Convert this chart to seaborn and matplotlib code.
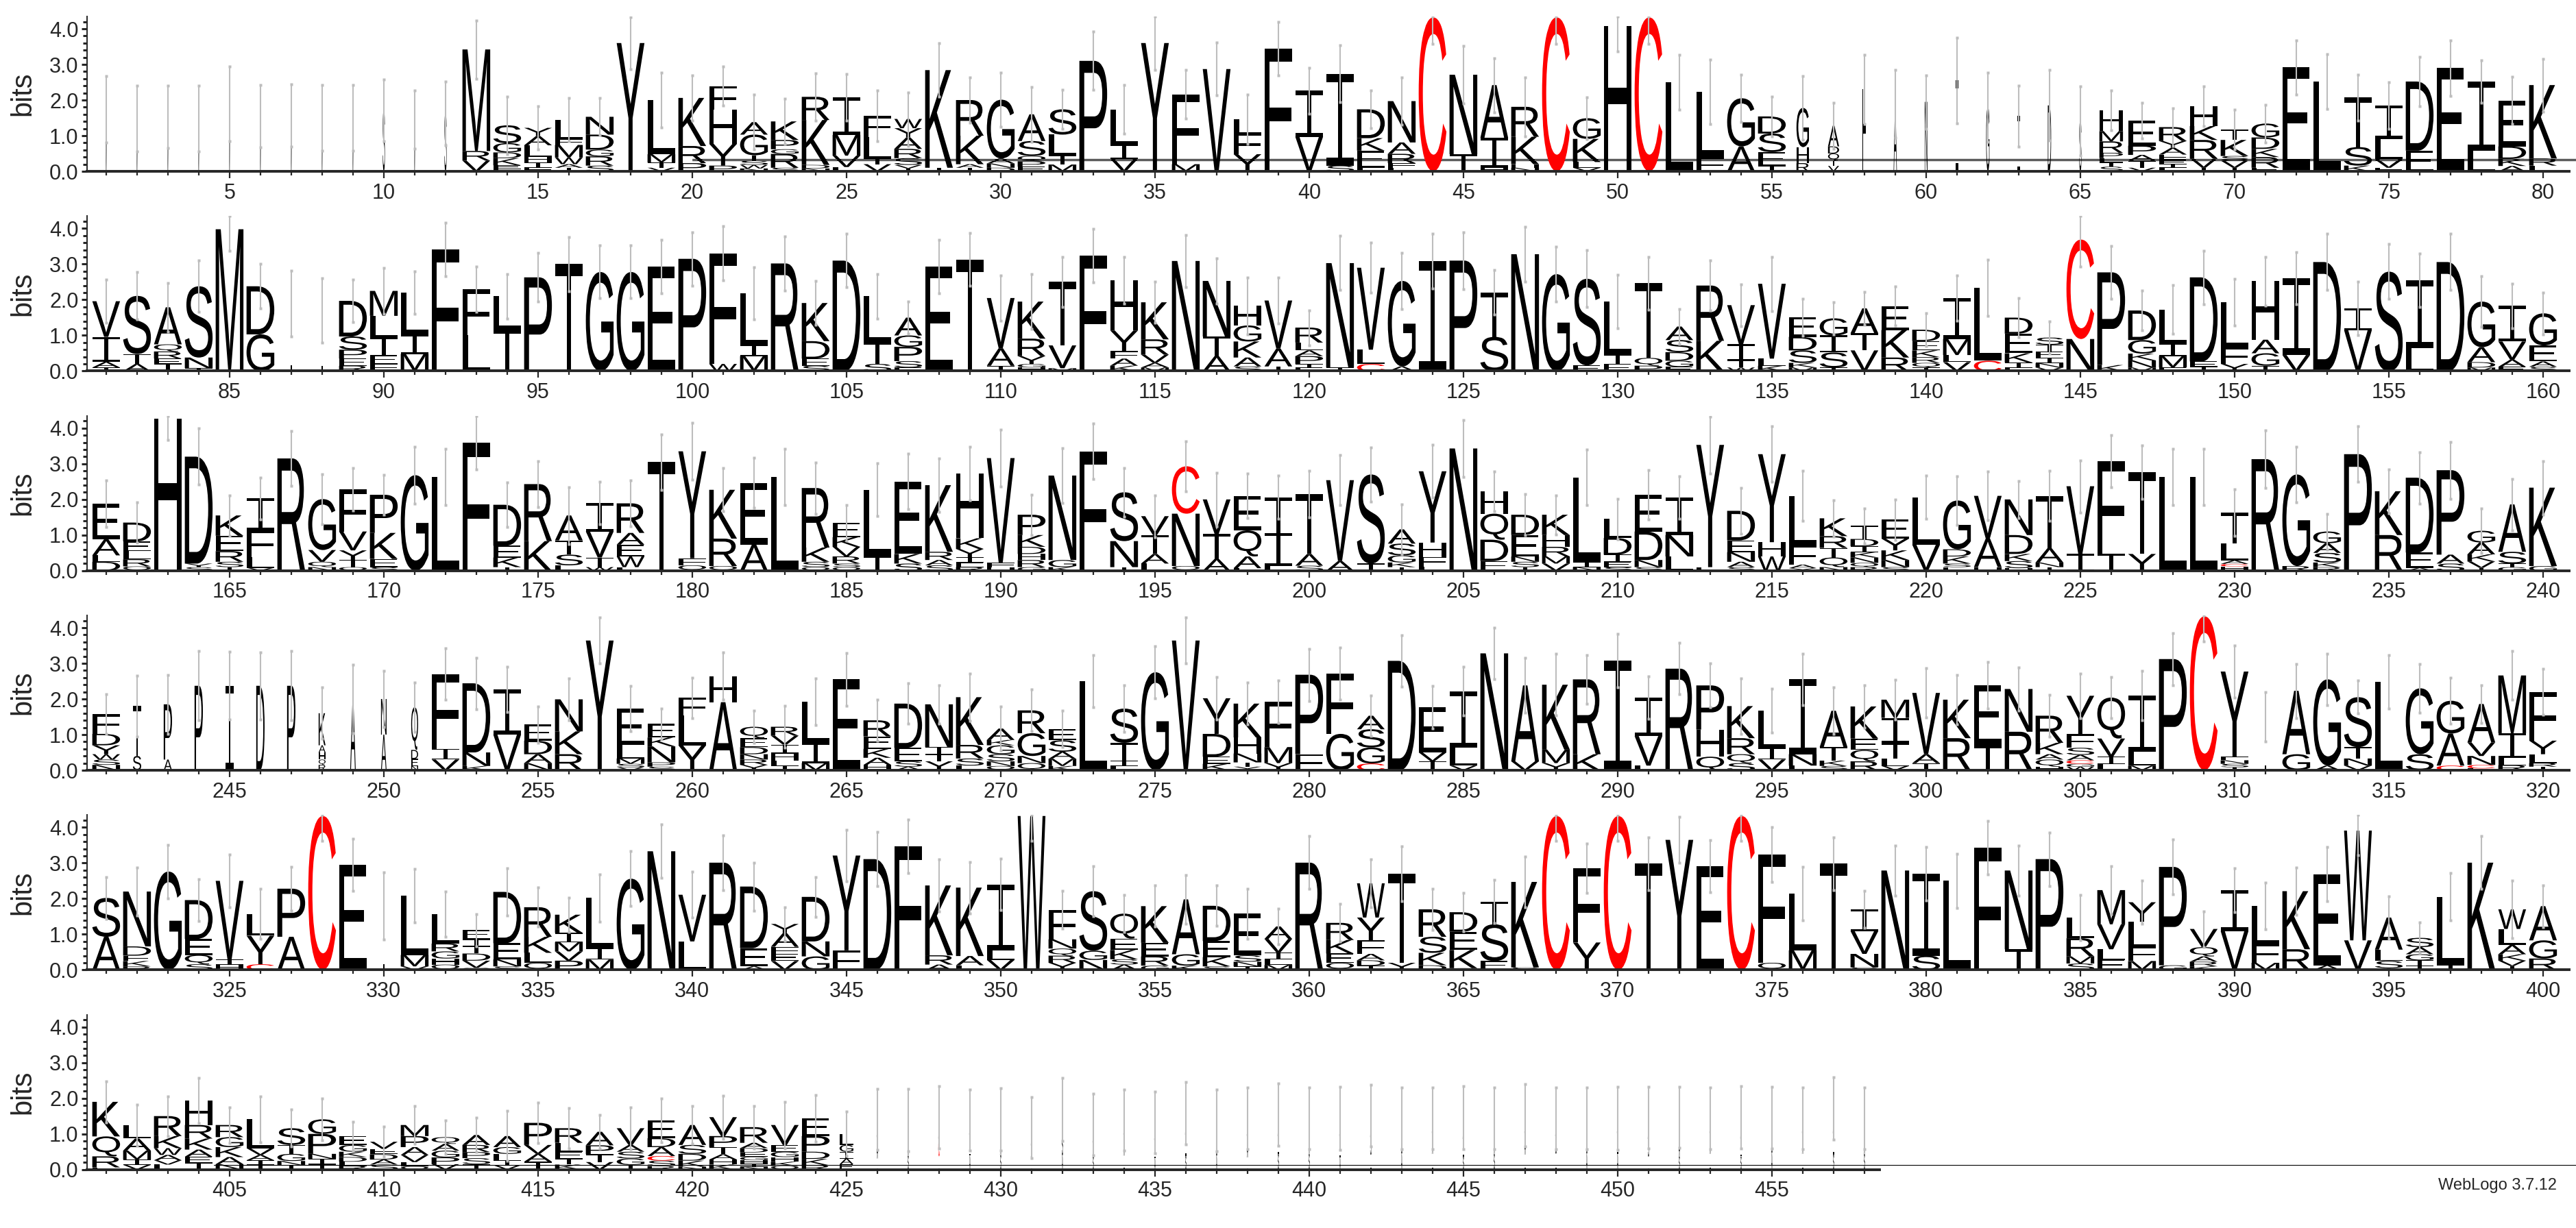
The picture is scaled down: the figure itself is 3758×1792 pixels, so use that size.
import re
import matplotlib
matplotlib.use("Agg")
import matplotlib.pyplot as plt
from matplotlib.textpath import TextPath
from matplotlib.patches import PathPatch
from matplotlib.path import Path
from matplotlib.font_manager import FontProperties
from matplotlib.transforms import Affine2D
import seaborn as sns

# ---- data: one string per position, letters listed top -> bottom with height in bits
row1 = ["M1.74", "M1.48", "M1.53", "M1.48", "M1.9", "M1.55", "M1.57", "M1.5", "M1.5", "S1.71",
        "M1.45", "S1.63", "M2.85R.27V.3", "S.5G.26D.16K.2E.1F.07", "Y.23A.26L.32H.16I.15F.1",
        "L.55F.16M.35W.19A.1T.1", "N.5D.42G.19R.26S.16", "Y3.6", "L1.52M.23T.15V.1", "K1.35R.48P.23",
        "F.65H.97Y.61P.16", "A.35G.58T.15S.12W.1N.08", "K.52P.26G.13R.39S.1", "R.65K1.26D.1N.08",
        "I1.06M.58V.32L.12", "F.58L.61T.16V.2", "W.26Y.26A.32R.26S.19V.1T.08", "K2.74T.1",
        "R1.0K.8A.1T.1", "G1.65A.14N.12D.1", "A.75S.42Q.15P.15E.13", "S.71L.58T.26M.19", "P3.1",
        "L1.0I.39V.35", "Y3.6", "F1.96M.2", "V2.87", "L.4F.58Y.48", "F3.45", "I1.29V.97",
        "I2.58S.16", "D.81K.35E.48L.1", "N1.16A.32R.26F.13L.1", "C4.32", "N2.23T.48", "A1.48I.84H.1",
        "R.84K.77H.1N.1", "C4.32", "G.58K.65L.16V.1", "H4.07", "C4.32", "L2.5", "L1.84F.39",
        "G1.35A.7", "D.48S.52E.39T.15", "G1.1H.45R.23", "A.58D.2Q.2T.15V.15", "H2.3", "A1.9", "N1.95",
        "I2.55", "G1.8", "I1.55", "D1.85", "S1.42", "H.58M.29R.32P.15L.12T.12S.13",
        "E.71P.26A.16T.2V.1", "R.39Y.19A.19F.15E.12I.1L.1", "H.55K.39R.52V.26T.1",
        "T.29K.45S.13V.2I.1", "G.39D.32K.23R.3E.1", "E2.92", "L2.52", "T1.39S.52K.16",
        "I.94L.58V.23F.1", "D1.94E.58", "E2.9", "I1.94L.58", "E1.29D.35K.2A.15", "K2.06R.2L.16"]

row2 = ["V1.0I.7A.16T.1", "S1.63T.28A.2", "A1.04Q.2R.2E.15T.2", "S2.0N.3T.08", "M3.98", "D1.35G1.03",
        "I1.9", "I1.7", "D1.0S.37P.25E.2R.15", "M.7L.61T.49E.25F.2", "L1.17I.55M.48", "F3.42",
        "F1.3L1.0", "L.92T1.18", "P2.63", "T3.0", "G2.78", "G2.78", "E2.93", "P3.15", "F3.1W.2",
        "L1.47I.3M.42", "R3.02", "K1.07D.49E.2S.15", "D3.1", "L1.29T.61S.2", "A.5G.32P.4S.18E.1",
        "E2.93", "T3.13", "V1.41A.49T.15", "K1.04R.49Y.22G.1H.1", "T1.78V.64M.08", "F3.24",
        "H1.41Y.58F.21A.2K.15", "K1.04R.43V.23A.13M.1", "N3.09", "N1.56T.55A.42", "H.55G.45K.45A.25S.13",
        "V1.35A.5T.13", "R.42L.22A.16P.22T.1E.1", "N2.93T.1", "V2.3L.4C.2", "G2.4A.13", "I3.09", "P3.1",
        "T1.25S.96", "N3.28", "G2.72", "S2.43E.16", "L1.5T.26E.2", "T2.1Q.22P.15", "A.38S.34D.24G.17E.12",
        "R1.55K.85", "V1.1I.45T.2W.1", "V2.1L.2K.15", "E.55D.38S.35K.13M.1", "G.48I.48S.42T.1",
        "A.7T.48V.58", "E.67K.77R.38", "D.32E.26K.19R.16Q.13T.1", "I1.15M.45L.2V.25", "L2.04C.29",
        "D.45E.55K.26T.14F.1", "S.2T.2E.18I.14N.12V.1", "C2.79N.9", "P2.6K.17", "D.83G.38K.19N.2M.1",
        "L.96I.35M.32E.1", "D2.36E.15T.12", "L1.28F.45Y.2", "H1.64A.38G.35T.15", "I2.15V.45", "D3.06",
        "I.6V1.15", "S2.79", "I1.9L.64", "D3.06", "G1.28A.42D.15M.1", "I1.0V.51A.2E.12", "G.9E.45A.15S.12"]

row3 = ["E1.0A.45L.18D.25", "D.53E.27L.23R.2Q.12", "H4.27", "D3.0Y.1S.1", "K.57E.43R.3S.15T.1",
        "I.9F.75L.3V.08", "R3.15", "G1.43V.33Q.15N.1", "F1.19V.53Y.27T.2Q.1", "P1.07K.73E.23S.1",
        "G2.68", "L2.63", "F3.59", "D1.15E.33K.27I.1", "R1.6K.83", "A.7T.4S.3L.15", "I.8V.73T.27W.1",
        "R.83A.33E.33W.3L.1", "T3.05", "Y3.0F.2Q.15", "K1.37R.77Q.13", "E1.73A.73", "L2.63",
        "R1.67K.4S.15Q.1", "E.4K.27V.27R.2S.1Q.1", "L1.87T.4", "E2.03K.27S.2", "K1.87R.23A.15S.15",
        "H1.81K.3Y.23I.15E.13R.1", "V2.93F.13H.1", "P.57K.33D.2H.17R.2G.1", "N2.37G.2K.1", "F3.35",
        "S1.37N.73T.1", "V.53T.53A.27L.2", "C1.33N1.47Q.13", "V.97T.7A.33", "E.97Q.73A.33L.07",
        "T1.0I.93L.13", "T1.68A.33S.14", "V2.27A.27", "S2.5T.2", "A.4S.33G.2K.13T.1", "Y2.0H.4F.27L.12",
        "N3.43", "H.63Q.73D.6E.27", "D.57E.6N.15S.15T.1", "K.57H.33R.27M.2V.2", "L2.37I.15N.1",
        "L.53D.47I.2E.15S.1", "E1.03D.8N.2S.1", "I1.05N.6L.4", "Y3.43E.1", "D.83E.33N.27A.15S.1",
        "Y2.47H.4W.4", "L1.4F.53A.1Y.07", "K.5R.33T.27Q.27N.1", "T.37D.2I.17K.15N.15Q.12R.1",
        "E.53Y.33K.27N.2S.1", "L1.33V.73", "G1.37D.2K.2S.1E.1", "V1.2A.8H.1", "N1.0D.53K.2S.2H.07",
        "T1.47A.4N.13I.1", "V1.9I.47", "F2.61T.47", "T2.3Y.47", "L2.63", "L2.63", "T.87L.47A.1C.07H.12",
        "R3.13", "G2.57R.13", "G.33A.27S.27K.13R.1", "P3.27", "K1.23R1.0", "D2.1E.43A.08", "P2.37A.25S.2",
        "G.33A.33K.2V.18T.08", "A1.33S.33T.1G.1", "K2.2G.13"]

row4 = ["F.55D.32Y.25W.15S.15N.15", "T1.4S.4", "P1.55A.3", "P2.37", "I2.37", "D2.37", "P2.37",
        "K.9A.2H.2Q.15R.15", "A2.0", "N1.0A1.0", "Q1.2D.25E.2N.12", "F2.1I.3V.3", "D1.94N.38K.12",
        "I1.27V1.0", "E.45D.38A.25N.2", "N.9K.64R.45", "Y3.64", "E1.02L.38M.15S.1V.08",
        "E.38K.25N.45P.12S.1", "F.5L.83Y.7", "H.73A1.91", "Q.32E.25D.2N.15R.15Y.15",
        "R.25V.25I.25H.2L.15T.12", "L1.15I.57M.2", "E2.55", "R.45E.35K.25A.2H.15", "D1.24E.38S.15A.1",
        "N1.2I.2T.2Y.25", "K1.34R.38S.2L.13", "A.32K.15G.25S.2N.13Q.12", "R.64G.64N.2Q.2",
        "E.32S.32A.2M.2K.12", "L2.5", "S.96T.5I.15L.12", "G2.75", "V3.64", "Y1.0D.64E.2K.18",
        "K.95H.45N.25T.12Y.1", "F1.27M.45Y.2", "P2.23F.45", "F1.69G1.02", "A.38S.51G.45C.19", "D3.07",
        "E1.27V.25I.25", "I1.59L.5V.13", "N3.28", "A2.13V.25", "K1.82M.38Y.2", "R2.1K.45", "I3.07",
        "I1.08V.83L.13", "R2.85", "P1.24H.76Q.38", "K.9R.45Q.25S.2", "L1.05I.32V.3", "I2.1N.32L.13",
        "A1.02T.38K.15S.12", "K.9E.32Q.32R.25", "M.51I.7T.45L.2V.12", "V1.72A.25T.2", "K1.08R.9",
        "E1.69T.7", "N1.2R1.08", "R.76K.32A.15Q.2H.1", "Y1.08F.38S.2A.15C.1G.08W.1", "Q1.15V.51I.2L.18",
        "I1.59L.38M.13", "P3.12", "C4.32", "Y2.39F.1N.1S.1T.08", "I1.5", "A1.78G.45", "G2.42A.13",
        "S1.4T.32N.2V.13", "L2.48", "G1.85S.45", "G.92A.9C.13", "A1.08V.38N.25C.1L.05",
        "M1.62I.7L.2R.14", "F1.37Y.38L.25R.1T.1"]

row5 = ["S1.09A.93", "N1.54D.26E.15K.15R.1", "G2.76", "D1.09E.45Q.26S.16", "V2.21I.15H.14",
        "L.61Y.8C.16", "P1.35A.93", "C4.32", "E2.95", "I1.8", "L1.67M.32V.1", "L.83R.22G.2H.17Q.15",
        "E.26I.2T.2D.2V.2Q.06", "D1.44E.45N.2S.1", "R.83K.45L.28Q.2", "K.51I.26M.26V.26P.26",
        "L1.41I.32M.29", "G2.56", "N3.33", "V1.31L.8", "R3.01", "D1.73E.51A.1", "Y.26A.38F.2E.2V.25",
        "D1.25N.42G.38", "Y2.66F.55", "D3.11", "F3.46", "K1.96R.26A.15", "K1.92A.26L.13", "I1.86L.26V.28",
        "W4.32", "F.83N.26Q.2R.2Y.2", "S1.67G.26N.28", "Q.7E.32K.26S.15A.15", "K1.03E.38R.26G.12",
        "A1.54G.32K.12", "D.99E.45K.26S.1", "E1.17S.18N.13T.1", "A.35V.38I.2L.15M.14", "R3.01",
        "R.48K.38E.26Q.2", "W.96Y.64F.38A.18D.15T.12", "T2.5Y.2", "R.77S.45K.35D.13", "D.55E.51K.51S.05",
        "T.64S1.03E.25", "K2.4S.07", "C4.32", "F2.08Y.77", "C4.32", "T2.98", "Y3.65", "E2.92", "C4.32",
        "F3.03Q.2", "L1.6M.55", "T2.98", "I.61V.64N.38S.07", "N2.79", "I2.3S.4", "L2.5", "F3.43",
        "N2.21T.58", "P3.11", "L.58R.51M.2S.18", "M.96V.7L.3E.28", "Y.55L.7F.4M.25", "P2.76G.13",
        "V.51Q.26A.15R.13K.1", "I1.15V1.09", "L1.09F.51M.2", "K1.63R.58", "E2.56A.13", "W3.08V.83",
        "A.9L.32S.2T.05", "S.26A.2G.17T.15I.12", "L1.92T.13", "K3.01", "W.55L.45A.26K.18V.15T.11",
        "A.96G.51R.32"]

row6 = ["K.97Q.56R.31E.06", "L.38A.34M.25I.15V.13", "R.56K.34W.19A.15V.12L.14",
        "H.69R.38K.31A.2E.18T.18", "R.34G.28K.28A.2N.15", "L.81V.19A.15T.12I.14", "S.47T.25G.2N.12I.12",
        "G.41P.56N.14I.15T.15", "E.25G.19K.15D.13L.12R.1", "V.2E.15D.15A.14S.14",
        "M.31P.31A.22V.2L.12Q.09", "Q.19A.19G.19P.19V.15", "A.28R.2P.17S.17I.15", "A.31G.19L.19I.13V.12",
        "P.62V.25A.22T.22", "R.41L.25E.2I.16K.14", "A.38P.25T.22V.21", "V.47A.19S.19G.18T.13",
        "E.5D.25A.25C.13S.15R.1", "A.56S.25D.19K.17N.08", "V.53P.31T.2A.15H.14K.14",
        "R.44A.15D.12E.12G.1H.1I.08N.08", "V.56E.19G.15H.13K.12Q.1", "E.5P.44D.2K.18R.12",
        "L.31G.19I.19A.16E.15",
        "S.6A.5L.31", "L.5A.5S.39", "A.6C.5L.37", "S.5L.5A.39", "L.6A.4S.41", "A.5S.4L.28",
        "L.7S.6A.39", "A.5L.4S.36", "S.5A.5L.39", "S.6L.4A.32", "A.6L.6S.38", "L.5S.5A.38",
        "S.6A.5L.34", "A.6L.5S.44", "L.5A.5S.44", "S.6L.5A.34", "A.6S.5L.41", "L.5S.5A.44",
        "S.5A.5L.44", "A.6L.5S.36", "L.5A.5S.44", "S.6A.5L.42", "A.5S.5L.44", "L.5S.5A.44",
        "S.5L.5A.44", "A.6S.5L.36", "L.6A.5S.37", "S.5A.5L.44", "A.6L.5S.37", "L.5S.5A.46",
        "S.5A.5L.44", "A.7L.6S.42", "L.5A.5S.44"]

err1 = [.94, .92, .87, .92, 1.05, .87, .87, .92, .92, .86, .82, .89,
        .82, .8, .6, .61, .52, .73, .77, .64, .55, .77, .63, .66, .66, .71, .75, .75, .63, .76,
        .77, .55, .82, .68, .75, .68, .74, .7, .75, .64, .79, .52, .66, .74, .8, .76, .82, .74, .58, .7,
        .74, .77, .9, .66, .55, .9, .65, .97, .95, .75, 1.2, .97, .85, .99, .97, .55, .5, .52, .56, .56,
        .53, .76, .77, .64, .65, .69, .78, .6, .66, .74]
err2 = [.6, .66, .69, .72, .6, .63, .92, .9, .6, .64, .6, .75, .64, .62, .68, .76, .74, .74, .75, .75,
        .76, .73, .76, .61, .75, .63, .46, .75, .74, .63, .77, .71, .75, .65, .58, .73, .64, .8, .65,
        .49, .76, .7, .79, .77, .8, .62, .77, .77, .8, .75, .74, .49, .7, .59, .76, .52, .46, .47, .55,
        .46, .63, .79, .54, .45, .75, .74, .56, .69, .75, .66, .68, .73, .79, .75, .77, .75, .79, .71,
        .62, .59]
err3 = [.65, .56, .6, .79, .57, .59, .77, .7, .6, .55, .8, .78, .75, .62, .64, .8, .59, .65, .78, .8,
        .61, .7, .78, .72, .5, .74, .78, .75, .75, .8, .57, .77, .78, .69, .59, .7, .75, .62, .61,
        .66, .7, .76, .7, .74, .8, .56, .58, .55, .78, .56, .7, .6, .8, .64, .78, .7, .51, .49, .57,
        .61, .68, .68, .52, .7, .73, .73, .75, .78, .78, .66, .8, .78, .5, .78, .62, .72, .8, .62, .72,
        .75]
err4 = [.56, .86, .83, .97, .95, .94, .97, .72, .97, .78, .7, .72, .72, .63, .51, .58, .64, .63, .44,
        .57, .66, .45, .58, .65, .74, .58, .57, .54, .67, .62, .59, .51, .73, .65, .73, .64, .59, .59,
        .59, .73, .73, .56, .72, .59, .68, .72, .77, .86, .68, .75, .6, .72, .62, .78, .62, .72, .65,
        .59, .55, .69, .7, .65, .61, .58, .63, .58, .69, .73, .7, .73, .7, .76, .72, .46, .75, .69, .65,
        .53, .68, .64]
err5 = [.59, .67, .75, .58, .74, .7, .62, .7, .74, .94, .75, .63, .45, .66, .55, .48, .66, .77, .75,
        .65, .77, .67, .47, .56, .72, .76, .75, .73, .72, .72, .7, .52, .71, .52, .58, .68, .57, .7, .5,
        .74, .53, .67, .77, .58, .54, .61, .72, .7, .69, .7, .74, .65, .73, .7, .77, .75, .74, .51, .7,
        .75, .76, .75, .7, .75, .63, .68, .61, .77, .5, .61, .65, .67, .76, .7, .59, .43, .66, .74, .81,
        .59]
err6 = [.57, .58, .56, .64, .5, .65, .52, .58, .4, .42, .53, .47, .48, .7, .57, .56, .47, .59, .62,
        .53, .61, .59, .65, .65, .63,
        .86, .87, .88, .86, .87, .86, .88, .87, .86, .87, .88, .86, .87, .87, .86, .88, .87, .86, .87,
        .88, .86, .87, .87, .86, .88, .87, .86, .87, .88, .86, .87, .87, .86]

# stack width (fraction of a column) where the column is mostly gaps
narrow = {1: .04, 2: .04, 3: .04, 4: .04, 5: .04, 6: .04, 7: .04, 8: .04, 9: .04, 10: .08, 11: .04,
          12: .08, 56: .45, 57: .4, 58: .12, 59: .12, 60: .1, 61: .1, 62: .12, 63: .08, 64: .12,
          65: .08, 66: .85, 87: .05, 88: .05, 242: .3, 243: .3, 244: .3, 245: .3, 246: .3, 247: .3,
          248: .25, 249: .2, 250: .2, 251: .25, 311: .04, 330: .05, 425: .5}
narrow.update({p: .05 for p in range(426, 459)})

# faint horizontal rules seen in the logo: (row, first position, height in bits)
rules = [(0, 20, 0.31), (0, 20, 0.35), (5, 404.5, 0.12)]

rows = [row1, row2, row3, row4, row5, row6]
errs = [err1, err2, err3, err4, err5, err6]

# ---- drawing
sns.set_style("ticks")
plt.rcParams['font.family'] = ['Liberation Sans', 'DejaVu Sans']

W, H = 3758, 1792
fig = plt.figure(figsize=(W / 100, H / 100), dpi=100)

fp = FontProperties(family='Liberation Sans')
glyphs = {}


def rect(x0, y0, w, h):
    return Path([(x0, y0), (x0 + w, y0), (x0 + w, y0 + h), (x0, y0 + h), (x0, y0)],
                [Path.MOVETO, Path.LINETO, Path.LINETO, Path.LINETO, Path.CLOSEPOLY])


# WebLogo's I has serifs: two bars and a thin stem
glyphs['I'] = Path.make_compound_path(rect(0, 0.91, 1, 0.09), rect(0.43, 0, 0.14, 1),
                                      rect(0, 0, 1, 0.09))


def letter(ax, ch, x, y0, w, h, color):
    if ch not in glyphs:
        glyphs[ch] = TextPath((0, 0), ch, size=1, prop=fp)
    tp = glyphs[ch]
    bb = tp.get_extents()
    tr = (Affine2D().translate(-bb.x0, -bb.y0)
          .scale(w / bb.width, h / bb.height)
          .translate(x - w / 2, y0))
    ax.add_patch(PathPatch(tr.transform_path(tp), fc=color, ec='none', lw=0,
                           clip_on=False, zorder=2))


tok = re.compile(r'([A-Z])(\d*\.\d+|\d+)')
baselines = [250, 541.5, 832.8, 1124, 1415.4, 1706.7]
px_bit = 52.0
ymax = 4.35

for r, (data, err) in enumerate(zip(rows, errs)):
    start = 80 * r + 1
    ax = fig.add_axes([127 / W, (H - baselines[r]) / H, 80.47 * 45 / W, ymax * px_bit / H])
    for i, s in enumerate(data):
        pos = start + i
        wf = narrow.get(pos, 1.0)
        stack = [(a, float(b)) for a, b in tok.findall(s)]
        y = 0.0
        for ch, h in reversed(stack):
            letter(ax, ch, pos, y, 0.9 * wf, h, 'red' if ch == 'C' else 'black')
            y += h
        lo, hi = max(y - err[i], 0), min(y + err[i], ymax)
        ax.vlines(pos, lo, hi, color='#bdbdbd', lw=1.5, zorder=3)
        ax.plot([pos, pos], [lo, hi], 's', ms=2.6, color='#bdbdbd', mec='none', zorder=3)

    for rr, x0, yb in rules:
        if rr == r:
            ax.plot([x0, start + 84], [yb, yb], color='black', lw=0.8, clip_on=False, zorder=1)

    last = start + len(data) - 1
    ax.set_xlim(start - 0.62, start + 79.85)
    ax.set_ylim(0, ymax)
    ax.set_xticks([p for p in range(start, last + 1) if p % 5 == 0])
    ax.set_xticks(list(range(start, last + 1)), minor=True)
    ax.set_yticks([0, 1, 2, 3, 4])
    ax.set_yticklabels(['0.0', '1.0', '2.0', '3.0', '4.0'])
    ax.set_yticks([k * 0.2 for k in range(22)], minor=True)
    ax.tick_params(axis='x', which='major', length=7, width=1.6, labelsize=22, pad=5)
    ax.tick_params(axis='x', which='minor', length=4, width=1.6)
    ax.tick_params(axis='y', which='major', length=6, width=2.2, labelsize=22, pad=3)
    ax.tick_params(axis='y', which='minor', length=4, width=2.2)
    sns.despine(ax=ax)
    ax.spines['bottom'].set_linewidth(2.8)
    ax.spines['left'].set_linewidth(1.4)
    ax.spines['bottom'].set_bounds(start - 0.62, last + 0.5 if r == 5 else start + 79.85)
    ax.patch.set_alpha(0)
    fig.text(33 / W, 1 - (baselines[r] - ymax * px_bit / 2) / H, 'bits', rotation=90,
             ha='center', va='center', fontsize=30)

fig.text(3730 / W, 1 - 1730 / H, 'WebLogo 3.7.12', ha='right', va='center', fontsize=17)
fig.savefig('out.png', dpi=100)
